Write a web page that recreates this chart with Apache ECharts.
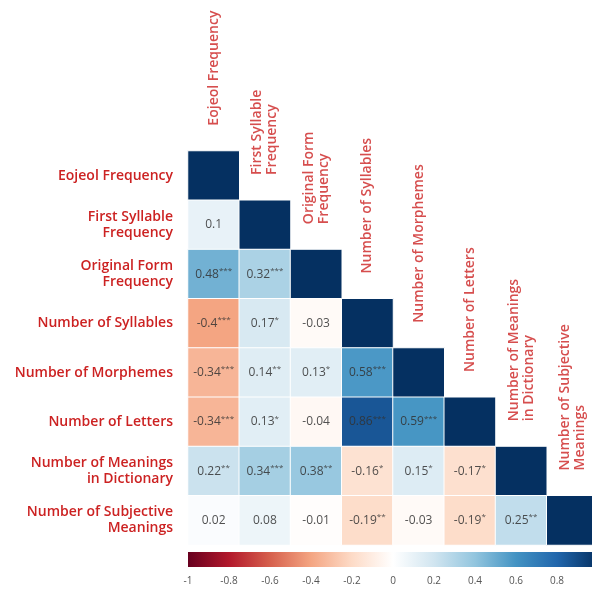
<!DOCTYPE html>
<html>
<head>
<meta charset="utf-8">
<script src="https://cdn.jsdelivr.net/npm/echarts@6/dist/echarts.min.js"></script>
<style>
  html, body { margin: 0; padding: 0; background: #fff; }
  #chart { width: 592px; height: 591px; }
</style>
</head>
<body>
<div id="chart"></div>
<script>
// Variables of the correlation matrix (row / column order)
const variables = [
  'Eojeol Frequency',
  'First Syllable\nFrequency',
  'Original Form\nFrequency',
  'Number of Syllables',
  'Number of Morphemes',
  'Number of Letters',
  'Number of Meanings\nin Dictionary',
  'Number of Subjective\nMeanings'
];

// Lower triangle of the correlation matrix, one array per row
const correlations = [
  [1],
  [0.1, 1],
  [0.48, 0.32, 1],
  [-0.4, 0.17, -0.03, 1],
  [-0.34, 0.14, 0.13, 0.58, 1],
  [-0.34, 0.13, -0.04, 0.86, 0.59, 1],
  [0.22, 0.34, 0.38, -0.16, 0.15, -0.17, 1],
  [0.02, 0.08, -0.01, -0.19, -0.03, -0.19, 0.25, 1]
];

// Significance markers for each coefficient
const significance = [
  [''],
  ['', ''],
  ['***', '***', ''],
  ['***', '*', '', ''],
  ['***', '**', '*', '***', ''],
  ['***', '*', '', '***', '***', ''],
  ['**', '***', '**', '*', '*', '*', ''],
  ['', '', '', '**', '', '*', '**', '']
];

// Colour bar tick values
const colorbarTicks = [-1, -0.8, -0.6, -0.4, -0.2, 0, 0.2, 0.4, 0.6, 0.8, 1];

// Diverging red-blue palette
const palette = ['#67001F', '#B2182B', '#D6604D', '#F4A582', '#FDDBC7', '#FFFFFF',
                 '#D1E5F0', '#92C5DE', '#4393C3', '#2166AC', '#053061'];

const cells = [];
correlations.forEach((row, r) => {
  row.forEach((v, c) => cells.push([c, r, v]));
});
const diagonal = variables.map((_, i) => [i, i]);

const labelColor = '#cc2222';
const font = '"Open Sans", "DejaVu Sans", sans-serif';

const chart = echarts.init(document.getElementById('chart'), null, { renderer: 'canvas' });

chart.setOption({
  animation: false,
  backgroundColor: '#ffffff',
  grid: [
    { left: 188, top: 151, width: 410, height: 394, containLabel: false, outerBoundsMode: 'none' },
    { left: 188, top: 552, width: 410, height: 15, containLabel: false, outerBoundsMode: 'none' }
  ],
  xAxis: [
    {
      gridIndex: 0, type: 'category', data: variables, position: 'top',
      axisLine: { show: false }, axisTick: { show: false }, axisLabel: { show: false },
      splitLine: { show: false }
    },
    {
      gridIndex: 1, type: 'value', min: -1, max: 1, position: 'bottom',
      axisLine: { show: false },
      splitLine: { show: false },
      axisTick: {
        show: true, inside: true, length: 3, customValues: colorbarTicks,
        lineStyle: { color: 'rgba(90,90,90,0.6)', width: 1 }
      },
      axisLabel: {
        customValues: colorbarTicks, color: '#555', fontSize: 10, margin: 9,
        fontFamily: font, formatter: v => String(Math.round(v * 10) / 10)
      }
    }
  ],
  yAxis: [
    {
      gridIndex: 0, type: 'category', data: variables, inverse: true,
      axisLine: { show: false }, axisTick: { show: false }, splitLine: { show: false },
      axisLabel: {
        color: labelColor, fontSize: 14, fontWeight: 600, fontFamily: font,
        margin: 15, lineHeight: 16, align: 'right'
      }
    },
    { gridIndex: 1, type: 'value', min: 0, max: 1, show: false }
  ],
  visualMap: {
    show: false, type: 'continuous', min: -1, max: 1, seriesIndex: 0, dimension: 2,
    inRange: { color: palette }
  },
  series: [
    {
      type: 'heatmap',
      xAxisIndex: 0, yAxisIndex: 0,
      data: cells,
      itemStyle: { borderColor: '#ffffff', borderWidth: 1 },
      emphasis: { disabled: true },
      label: {
        show: true,
        formatter: p => {
          const [c, r, v] = p.value;
          if (c === r) return '';
          const s = significance[r][c];
          return '{v|' + v + '}' + (s ? '{s|' + s + '}' : '');
        },
        rich: {
          v: { fontSize: 12, color: 'rgba(50,50,50,0.85)', fontFamily: font },
          s: { fontSize: 8, color: 'rgba(50,50,50,0.85)', fontFamily: font, padding: [0, 0, 7, 0] }
        }
      }
    },
    {
      // Variable names standing above each diagonal cell
      type: 'scatter',
      xAxisIndex: 0, yAxisIndex: 0,
      data: diagonal,
      symbolSize: 0,
      silent: true,
      label: {
        show: true,
        position: 'top',
        distance: 50,
        rotate: 90,
        align: 'left',
        verticalAlign: 'middle',
        color: labelColor,
        fontSize: 14,
        fontWeight: 600,
        fontFamily: font,
        lineHeight: 15,
        formatter: p => variables[p.value[0]]
      }
    },
    {
      // Colour bar
      type: 'custom',
      xAxisIndex: 1, yAxisIndex: 1,
      data: [[colorbarTicks[0], colorbarTicks[colorbarTicks.length - 1]]],
      silent: true,
      renderItem: (params, api) => {
        const p0 = api.coord([api.value(0), 1]);
        const p1 = api.coord([api.value(1), 0]);
        return {
          type: 'rect',
          shape: { x: p0[0], y: p0[1], width: p1[0] - p0[0], height: p1[1] - p0[1] },
          style: {
            fill: new echarts.graphic.LinearGradient(0, 0, 1, 0,
              palette.map((color, i) => ({ offset: i / (palette.length - 1), color })))
          }
        };
      },
      z: 1
    }
  ]
});
</script>
</body>
</html>
